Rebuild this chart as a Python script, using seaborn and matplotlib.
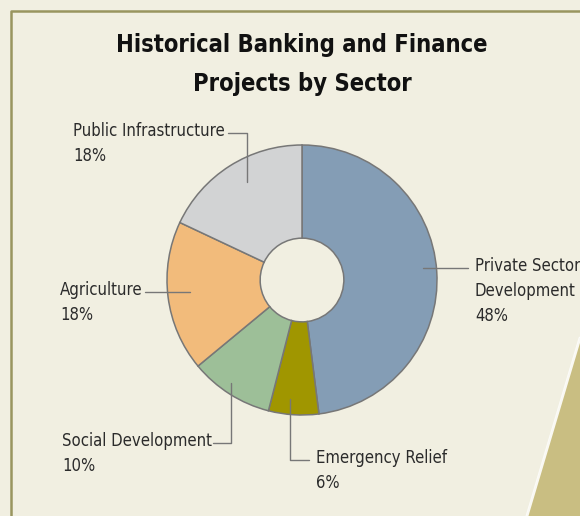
import matplotlib.pyplot as plt
import seaborn as sns

sectors = ['Private Sector\nDevelopment', 'Emergency Relief', 'Social Development',
           'Agriculture', 'Public Infrastructure']
shares = [48, 6, 10, 18, 18]
colors = ['#849db5', '#a09600', '#9dbf98', '#f2bb7b', '#d2d3d4']

sns.set_theme(style='white')
plt.rcParams['font.family'] = ['DejaVu Sans']
plt.rcParams['font.stretch'] = 'condensed'

W, H = 580, 516
fig = plt.figure(figsize=(5.8, 5.16), dpi=100)
bg = '#f1efe1'
fig.patch.set_facecolor(bg)
ax = fig.add_axes([0, 0, 1, 1])
ax.set_facecolor(bg)

cx, cy, R = 302, H - 280, 135
wedges, _ = ax.pie(shares, colors=colors, startangle=90, counterclock=False,
                   radius=R, center=(cx, cy),
                   wedgeprops=dict(width=R * 0.69, edgecolor='#777777', linewidth=1.1))
ax.set_xlim(0, W)
ax.set_ylim(0, H)
ax.set_aspect('equal')
ax.axis('off')

# border and decoration
ax.plot([11, 11, W], [0, H - 11, H - 11], color='#99955f', lw=1.8, solid_capstyle='butt')
ax.fill([580, 527, 580], [H - 338, 0, 0], color='#c9be82', zorder=0)
ax.plot([580, 527], [H - 338, 0], color='white', lw=2, alpha=0.9, zorder=0)

ax.text(302, H - 64.5, 'Historical Banking and Finance\nProjects by Sector',
        ha='center', va='center', fontsize=17, fontweight='bold', color='#111111',
        linespacing=1.8, fontstretch='condensed')

# leader lines, pixel coords from top-left: anchor inside wedge, elbow, label x
lc = '#777777'
leaders = [
    ((423, 268), None, (468, 268), 475),
    ((290, 399), (290, 460), (309, 460), 316),
    ((231, 383), (231, 443), (213, 443), 62),
    ((190, 292), None, (145, 292), 60),
    ((247, 182), (247, 133), (228, 133), 73),
]
fs = 12
for name, val, (a, e, end, tx) in zip(sectors, shares, leaders):
    pts = [a] + ([e] if e else []) + [end]
    ax.plot([p[0] for p in pts], [H - p[1] for p in pts], color=lc, lw=1.0)
    ax.text(tx, H - end[1] + 11, f'{name}\n{val}%', ha='left', va='top', fontsize=fs,
            color='#2b2b2b', linespacing=1.5, fontstretch='condensed')

fig.savefig('out.png', dpi=100, facecolor=bg)
